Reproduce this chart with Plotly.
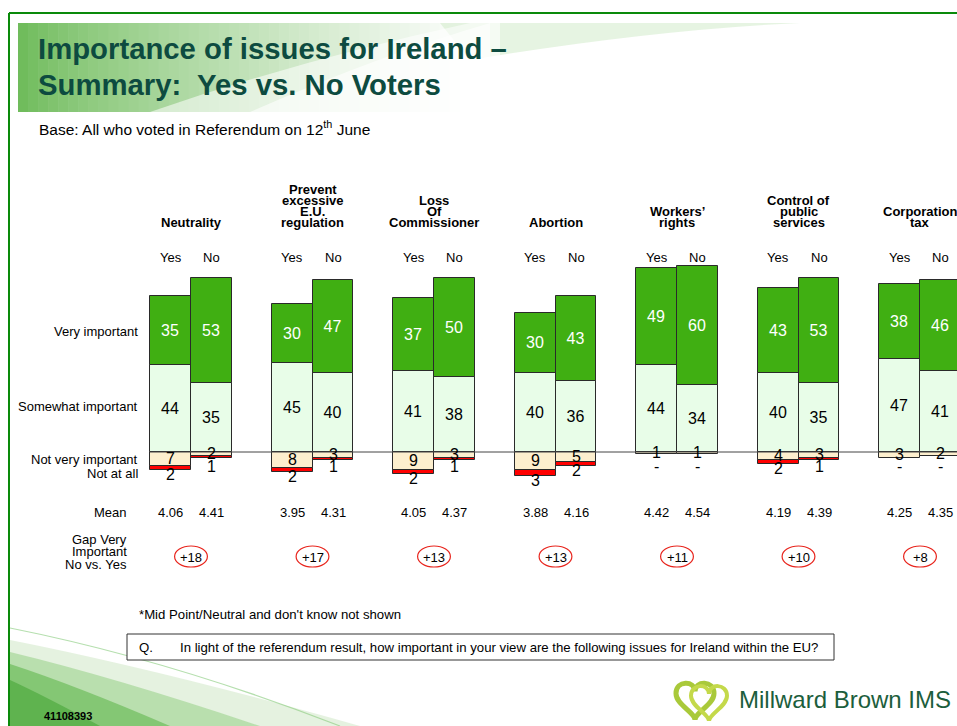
import plotly.graph_objects as go

# ---------------- data ----------------
categories = ["Neutrality", "Prevent excessive E.U. regulation", "Loss Of Commissioner",
              "Abortion", "Workers’ rights", "Control of public services", "Corporation tax"]
category_lines = [["Neutrality"], ["Prevent", "excessive", "E.U.", "regulation"],
                  ["Loss", "Of", "Commissioner"], ["Abortion"], ["Workers’", "rights"],
                  ["Control of", "public", "services"], ["Corporation", "tax"]]
very_yes = [35, 30, 37, 30, 49, 43, 38]
very_no = [53, 47, 50, 43, 60, 53, 46]
some_yes = [44, 45, 41, 40, 44, 40, 47]
some_no = [35, 40, 38, 36, 34, 35, 41]
notvery_yes = [7, 8, 9, 9, 1, 4, 3]
notvery_no = [2, 3, 3, 5, 1, 3, 2]
notatall_yes = [2, 2, 2, 3, 0, 2, 0]
notatall_no = [1, 1, 1, 2, 0, 1, 0]
mean_yes = [4.06, 3.95, 4.05, 3.88, 4.42, 4.19, 4.25]
mean_no = [4.41, 4.31, 4.37, 4.16, 4.54, 4.39, 4.35]
gap = [18, 17, 13, 13, 11, 10, 8]
row_labels = ["Very important", "Somewhat important", "Not very important", "Not at all"]

# ---------------- geometry / style ----------------
W, H = 957, 726
GROUP_PX, X0_PX, BASE_PX, UNIT_PX = 121.5, 191, 452, 1.98
HALF, BW = 0.1687, 0.3374
FONT = "Arial, Liberation Sans, sans-serif"
DARK_GREEN = "#40AF12"
LIGHT_GREEN = "#E8FDE8"
TAN = "#FDEFCE"
RED = "#FF0000"
EDGE = "#2a2a2a"
TITLE_COL = "#0D4B40"


def fx(p):
    return p / W


def fy(p):
    return 1 - p / H


n = len(categories)
xs = [i - HALF for i in range(n)] + [i + HALF for i in range(n)]

fig = go.Figure()


def add_seg(vals, color, text_color=None, neg=False):
    y = []
    for v in vals:
        if neg:
            y.append(-v if v else None)
        else:
            y.append(v)
    kw = {}
    if text_color:
        kw = dict(text=[str(v) for v in vals], textposition="inside", insidetextanchor="middle",
                  textangle=0, constraintext="none",
                  textfont=dict(color=text_color, size=16, family=FONT))
    fig.add_trace(go.Bar(x=xs, y=y, width=BW, marker=dict(color=color, line=dict(color=EDGE, width=1)),
                         hoverinfo="skip", showlegend=False, **kw))


add_seg(some_yes + some_no, LIGHT_GREEN, "#000000")
add_seg(very_yes + very_no, DARK_GREEN, "#FFFFFF")
add_seg(notvery_yes + notvery_no, TAN, neg=True)
add_seg(notatall_yes + notatall_no, RED, neg=True)

ann = []
shapes = []

# --- slide decoration ---
# banner gradient
N = 46
bx0, bx1 = 18, 480
for k in range(N):
    t = k / (N - 1)
    f = t ** 0.8
    r = int(112 + (255 - 112) * f)
    g = int(188 + (255 - 188) * f)
    b = int(92 + (255 - 92) * f)
    x0 = bx0 + (bx1 - bx0) * k / N
    x1 = bx0 + (bx1 - bx0) * (k + 1) / N + 0.6
    shapes.append(dict(type="rect", xref="paper", yref="paper", x0=fx(x0), x1=fx(x1), y0=fy(112), y1=fy(23),
                       fillcolor=f"rgb({r},{g},{b})", line=dict(width=0), layer="below"))
# light band top-right
shapes.append(dict(type="path", xref="paper", yref="paper",
                   path=f"M {fx(440)},{fy(23)} L {fx(800)},{fy(23)} Q {fx(650)},{fy(30)} {fx(470)},{fy(60)} Z",
                   fillcolor="rgba(200,230,190,0.45)", line=dict(width=0), layer="below"))
# white swoosh
shapes.append(dict(type="path", xref="paper", yref="paper",
                   path=f"M {fx(150)},{fy(112)} Q {fx(300)},{fy(60)} {fx(470)},{fy(23)} L {fx(490)},{fy(23)} "
                        f"L {fx(490)},{fy(112)} Z",
                   fillcolor="rgba(255,255,255,0.55)", line=dict(width=0), layer="below"))
shapes.append(dict(type="path", xref="paper", yref="paper",
                   path=f"M {fx(250)},{fy(112)} Q {fx(380)},{fy(55)} {fx(490)},{fy(23)} L {fx(500)},{fy(23)} "
                        f"L {fx(500)},{fy(112)} Z",
                   fillcolor="rgba(255,255,255,0.6)", line=dict(width=0), layer="below"))

# bottom-left swoosh
shapes.append(dict(type="path", xref="paper", yref="paper",
                   path=f"M {fx(10)},{fy(628)} Q {fx(170)},{fy(660)} {fx(340)},{fy(726)}",
                   line=dict(color="rgba(150,210,140,0.7)", width=1.2), layer="below"))
for (tx, ty, ex, a, col) in [(10, 640, 360, 0.25, "150,205,130"), (10, 652, 260, 0.4, "120,195,100"),
                             (10, 664, 170, 0.55, "90,178,70"), (10, 680, 100, 0.6, "70,165,55")]:
    shapes.append(dict(type="path", xref="paper", yref="paper",
                       path=f"M {fx(tx)},{fy(ty)} Q {fx(ex * 0.45)},{fy(ty + (726 - ty) * 0.35)} {fx(ex)},{fy(726)} "
                            f"L {fx(10)},{fy(726)} Z",
                       fillcolor=f"rgba({col},{a})", line=dict(width=0), layer="below"))

# green frame
shapes.append(dict(type="line", xref="paper", yref="paper", x0=fx(9), x1=fx(960), y0=fy(13), y1=fy(13),
                   line=dict(color="#0A8A0A", width=2)))
shapes.append(dict(type="line", xref="paper", yref="paper", x0=fx(9), x1=fx(9), y0=fy(13), y1=fy(730),
                   line=dict(color="#0A8A0A", width=2)))

# title & base
ann.append(dict(text="<b>Importance of issues for Ireland –</b>", x=fx(36), y=fy(48), xanchor="left",
                yanchor="middle", font=dict(size=29.3, color=TITLE_COL, family=FONT)))
ann.append(dict(text="<b>Summary:  Yes vs. No Voters</b>", x=fx(36), y=fy(84), xanchor="left",
                yanchor="middle", font=dict(size=29.3, color=TITLE_COL, family=FONT)))
ann.append(dict(text="Base: All who voted in Referendum on 12<sup>th</sup> June", x=fx(37), y=fy(128),
                xanchor="left", yanchor="middle", font=dict(size=15.5, color="#000000", family=FONT)))

# row labels
for lab, ypx in zip(row_labels, [332, 407, 459, 473]):
    ann.append(dict(text=lab, x=fx(140), y=fy(ypx), xanchor="right", yanchor="middle",
                    font=dict(size=13, color="#000000", family=FONT)))
ann.append(dict(text="Mean", x=fx(129), y=fy(512), xanchor="right", yanchor="middle",
                font=dict(size=13, color="#000000", family=FONT)))
for lab, ypx in zip(["Gap Very", "Important", "No vs. Yes"], [539, 551, 564]):
    ann.append(dict(text=lab, x=fx(129), y=fy(ypx), xanchor="right", yanchor="middle",
                    font=dict(size=13, color="#000000", family=FONT)))

# per-group annotations
for i in range(n):
    lines = category_lines[i]
    for k, line in enumerate(reversed(lines)):
        ann.append(dict(text=f"<b>{line}</b>", x=i, xref="x", y=fy(222 - 11 * k), yanchor="middle",
                        font=dict(size=13, color="#000000", family=FONT)))
    for side, xc in (("Yes", i - HALF), ("No", i + HALF)):
        ann.append(dict(text=side, x=xc, xref="x", y=fy(258), yanchor="middle",
                        font=dict(size=13, color="#000000", family=FONT)))
    for xc, nv, na, mv in ((i - HALF, notvery_yes[i], notatall_yes[i], mean_yes[i]),
                           (i + HALF, notvery_no[i], notatall_no[i], mean_no[i])):
        ann.append(dict(text=str(nv), x=xc, xref="x", y=-nv / 2, yref="y", yanchor="middle",
                        font=dict(size=16, color="#000000", family=FONT)))
        ann.append(dict(text=str(na) if na else "-", x=xc, xref="x", y=min(-(nv + na) - 2.2, -7.5), yref="y",
                        yanchor="middle", font=dict(size=16, color="#000000", family=FONT)))
        ann.append(dict(text=f"{mv:.2f}", x=xc, xref="x", y=fy(512), yanchor="middle",
                        font=dict(size=13, color="#000000", family=FONT)))
    ann.append(dict(text=f"+{gap[i]}", x=i, xref="x", y=fy(557), yanchor="middle",
                    font=dict(size=13, color="#000000", family=FONT)))
    shapes.append(dict(type="circle", xref="x", yref="paper", x0=i - 0.135, x1=i + 0.135,
                       y0=fy(567), y1=fy(546), line=dict(color="#E8261E", width=1.2)))

# baseline
shapes.append(dict(type="line", xref="x", yref="y", x0=-2 * HALF, x1=n + 1, y0=0, y1=0,
                   line=dict(color="#444444", width=1)))

# footnote & question box
ann.append(dict(text="*Mid Point/Neutral and don't know not shown", x=fx(137), y=fy(614), xanchor="left",
                yanchor="middle", font=dict(size=13.2, color="#000000", family=FONT)))
shapes.append(dict(type="rect", xref="paper", yref="paper", x0=fx(127), x1=fx(834), y0=fy(660), y1=fy(634),
                   line=dict(color="#333333", width=1), fillcolor="#FFFFFF"))
ann.append(dict(text="Q.", x=fx(137), y=fy(647), xanchor="left", yanchor="middle",
                font=dict(size=13.2, color="#000000", family=FONT)))
ann.append(dict(text="In light of the referendum result, how important in your view are the following issues for Ireland within the EU?",
                x=fx(178), y=fy(647), xanchor="left", yanchor="middle",
                font=dict(size=13.2, color="#000000", family=FONT)))

# job number
ann.append(dict(text="<b>41108393</b>", x=fx(42), y=fy(716), xanchor="left", yanchor="middle",
                font=dict(size=11, color="#000000", family=FONT)))


# logo
def heart(cx, cy, s):
    pts = [(cx, cy + 0.25 * s), (cx, cy - 0.05 * s), (cx - 0.5 * s, cy - 0.05 * s), (cx - 0.5 * s, cy + 0.3 * s),
           (cx - 0.5 * s, cy + 0.6 * s), (cx, cy + 0.8 * s), (cx, cy + s),
           (cx, cy + 0.8 * s), (cx + 0.5 * s, cy + 0.6 * s), (cx + 0.5 * s, cy + 0.3 * s),
           (cx + 0.5 * s, cy - 0.05 * s), (cx, cy - 0.05 * s), (cx, cy + 0.25 * s)]
    p = [(fx(a), fy(b)) for a, b in pts]
    d = f"M {p[0][0]},{p[0][1]}"
    for j in range(1, 13, 3):
        d += f" C {p[j][0]},{p[j][1]} {p[j+1][0]},{p[j+1][1]} {p[j+2][0]},{p[j+2][1]}"
    return d + " Z"


shapes.append(dict(type="path", xref="paper", yref="paper", path=heart(695, 682, 38),
                   line=dict(color="#A9C93A", width=5)))
shapes.append(dict(type="path", xref="paper", yref="paper", path=heart(709, 685, 36),
                   line=dict(color="#C4D94A", width=4)))
ann.append(dict(text="Millward Brown IMS", x=fx(737), y=fy(699), xanchor="left", yanchor="middle",
                font=dict(size=24, color="#1C5E3C", family=FONT)))

for a in ann:
    a.setdefault("xref", "paper")
    a.setdefault("yref", "paper")
    a["showarrow"] = False

fig.update_layout(
    width=W, height=H, margin=dict(l=0, r=0, t=0, b=0),
    paper_bgcolor="#FFFFFF", plot_bgcolor="rgba(0,0,0,0)",
    barmode="relative", bargap=0,
    xaxis=dict(range=[-X0_PX / GROUP_PX, (W - X0_PX) / GROUP_PX], visible=False, fixedrange=True),
    yaxis=dict(range=[-(H - BASE_PX) / UNIT_PX, BASE_PX / UNIT_PX], visible=False, fixedrange=True),
    annotations=ann, shapes=shapes, showlegend=False,
)

fig.write_html("out.html", config={"displayModeBar": False},
               post_script="document.body.style.margin='0';document.body.style.overflow='hidden';")
